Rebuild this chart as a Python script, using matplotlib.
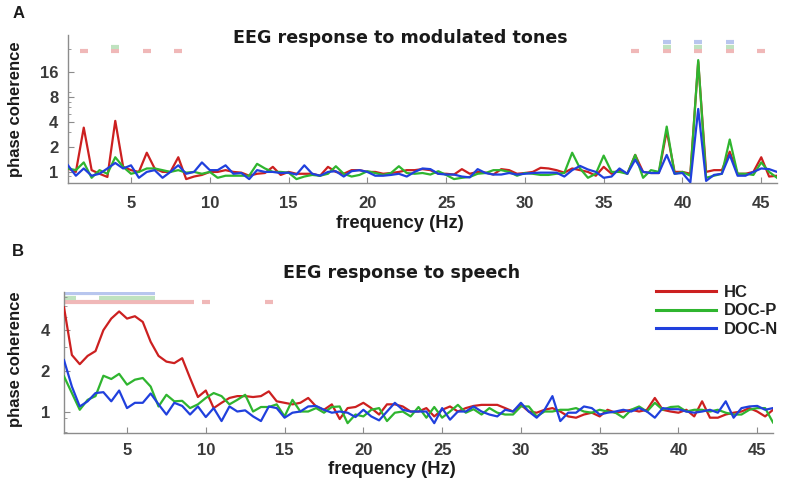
import numpy as np
import matplotlib
matplotlib.use('Agg')
import matplotlib.pyplot as plt
from matplotlib.ticker import FixedLocator, LogLocator, NullFormatter, FixedFormatter

plt.rcParams['font.family'] = ['Liberation Sans', 'DejaVu Sans']
plt.rcParams['font.weight'] = 'bold'

# frequency bins (Hz), 0.5 Hz resolution
freqs = np.arange(1, 46.5, 0.5)

# Panel A: modulated tones
tones_hc = [1.1, 1.0, 3.4, 1.05, 0.95, 0.87, 4.1, 1.15, 1.05, 1.0,
            1.7, 1.1, 1.0, 1.0, 1.5, 0.82, 0.88, 0.92, 1.0, 1.0,
            1.05, 1.0, 0.98, 0.9, 0.95, 0.97, 1.15, 0.92, 1.0, 0.95,
            0.95, 0.95, 0.9, 1.15, 1.0, 0.95, 1.05, 1.05, 1.0, 1.0,
            0.95, 0.97, 1.0, 1.05, 1.05, 1.08, 1.05, 0.95, 0.95, 0.93,
            1.08, 0.95, 1.0, 0.98, 0.93, 1.08, 1.05, 0.95, 0.97, 1.0,
            1.12, 1.1, 1.05, 0.98, 1.1, 1.05, 1.0, 0.9, 1.15, 0.95,
            1.05, 0.95, 1.6, 1.0, 0.97, 0.97, 3.1, 1.0, 1.0, 0.95,
            21.0, 1.0, 1.05, 1.05, 1.75, 0.95, 0.95, 1.0, 1.5, 0.88,
            0.9]
tones_docp = [1.1, 1.05, 1.3, 0.85, 1.05, 0.95, 1.5, 1.15, 0.95, 1.0,
              1.1, 1.1, 1.05, 1.0, 1.05, 0.98, 1.0, 0.95, 1.0, 0.85,
              0.9, 0.9, 0.9, 0.9, 1.25, 1.1, 1.0, 1.0, 0.98, 0.82,
              0.88, 0.92, 0.9, 0.95, 1.17, 0.95, 0.88, 0.92, 1.02, 0.97,
              0.92, 0.97, 1.17, 0.97, 0.95, 0.97, 0.93, 1.02, 0.92, 0.82,
              0.85, 0.87, 0.95, 0.97, 1.05, 1.05, 1.0, 0.9, 0.97, 0.95,
              0.92, 0.92, 0.95, 0.97, 1.7, 1.1, 0.85, 0.95, 1.57, 1.0,
              1.0, 0.95, 1.6, 0.85, 1.05, 1.0, 3.5, 0.95, 1.0, 0.9,
              22.0, 0.85, 0.9, 0.95, 2.45, 0.95, 0.95, 0.92, 1.3, 1.0,
              0.85]
tones_docn = [1.2, 0.9, 1.1, 0.9, 0.95, 1.1, 1.28, 1.1, 1.2, 0.85,
              1.0, 1.05, 0.85, 1.0, 1.2, 0.95, 1.0, 1.3, 1.05, 1.05,
              1.2, 0.95, 0.97, 0.82, 1.05, 1.0, 1.0, 0.97, 0.98, 0.93,
              1.2, 0.95, 0.9, 1.0, 1.02, 0.88, 1.02, 1.05, 1.0, 0.9,
              0.9, 0.92, 0.95, 0.88, 1.0, 1.1, 1.08, 0.95, 0.93, 0.93,
              0.88, 0.86, 1.08, 0.97, 0.93, 0.93, 0.97, 0.93, 0.95, 0.97,
              0.98, 0.98, 0.98, 0.88, 1.05, 1.18, 1.07, 1.0, 0.85, 0.88,
              1.1, 0.95, 1.4, 1.0, 0.97, 0.97, 1.6, 0.95, 0.97, 0.75,
              5.7, 0.78, 0.92, 0.95, 1.6, 0.9, 0.9, 1.0, 1.1, 1.08,
              1.0]

# Panel B: speech
speech_hc = [5.9, 2.62, 2.24, 2.58, 2.8, 4.0, 4.87, 5.5, 4.87, 5.07,
             4.6, 3.28, 2.58, 2.34, 2.28, 2.48, 1.77, 1.28, 1.43, 1.06,
             1.16, 1.26, 1.3, 1.3, 1.28, 1.3, 1.41, 1.19, 1.16, 1.13,
             1.16, 1.26, 1.09, 1.03, 1.13, 0.88, 1.06, 1.08, 1.16, 1.06,
             0.95, 1.13, 1.13, 1.09, 1.0, 1.0, 1.06, 0.92, 1.03, 1.09,
             1.0, 1.06, 1.1, 1.12, 1.12, 1.12, 1.06, 1.0, 1.12, 1.0,
             0.98, 1.03, 1.06, 1.0, 0.92, 0.9, 0.95, 0.98, 0.92, 1.03,
             0.98, 1.0, 1.03, 1.0, 1.03, 1.26, 1.03, 1.0, 0.98, 1.03,
             0.92, 1.19, 0.9, 0.9, 0.95, 0.98, 1.0, 1.06, 1.0, 0.92,
             1.03]
speech_docp = [1.82, 1.37, 1.03, 1.22, 1.3, 1.84, 1.74, 1.9, 1.58, 1.72,
               1.77, 1.53, 1.09, 1.33, 1.19, 1.2, 1.06, 1.13, 1.26, 1.37,
               1.3, 1.13, 1.22, 1.33, 1.0, 1.08, 1.08, 1.13, 0.92, 1.22,
               1.0, 1.0, 1.06, 0.98, 1.08, 1.09, 0.82, 0.95, 0.92, 1.03,
               1.06, 0.85, 0.98, 1.0, 0.92, 1.08, 0.9, 1.08, 0.9, 1.0,
               1.12, 0.98, 1.04, 0.95, 1.06, 0.98, 0.95, 0.95, 1.09, 1.09,
               0.92, 1.0, 1.0, 1.03, 1.03, 1.06, 1.0, 0.98, 1.03, 1.0,
               0.98, 0.9, 1.03, 1.09, 1.0, 1.16, 1.03, 1.08, 1.09, 1.0,
               1.03, 1.03, 1.0, 1.03, 0.98, 0.95, 0.95, 1.03, 1.06, 1.06,
               0.83]
speech_docn = [2.4, 1.53, 1.09, 1.19, 1.37, 1.39, 1.19, 1.43, 1.06, 1.16,
               1.16, 1.36, 1.13, 0.95, 1.16, 1.1, 0.95, 1.09, 0.91, 1.06,
               0.85, 1.09, 1.0, 1.02, 0.92, 0.85, 1.09, 1.06, 0.9, 0.98,
               1.0, 1.09, 1.1, 1.03, 0.98, 1.0, 0.98, 0.91, 1.03, 0.92,
               0.86, 1.0, 1.16, 1.03, 1.0, 1.0, 1.0, 0.82, 1.06, 0.87,
               1.0, 1.0, 1.09, 1.0, 0.95, 0.92, 1.03, 1.0, 1.16, 1.0,
               0.9, 1.03, 1.3, 0.85, 0.98, 0.98, 1.09, 1.06, 0.95, 0.98,
               1.0, 1.03, 1.0, 1.06, 1.0, 0.9, 1.06, 1.04, 1.04, 1.0,
               0.98, 1.0, 1.03, 0.98, 1.19, 0.9, 1.06, 1.09, 1.1, 1.03,
               1.06]

# significant frequency bins
sig_tones_hc = [2, 4, 6, 8, 37, 39, 41, 43, 45]
sig_tones_docp = [4, 39, 41, 43]
sig_tones_docn = [39, 41, 43]
sig_speech_hc = [1, 1.5, 2, 2.5, 3, 3.5, 4, 4.5, 5, 5.5, 6, 6.5, 7, 7.5, 8, 8.5, 9, 10, 14]
sig_speech_docp = [1, 1.5, 3.5, 4, 4.5, 5, 5.5, 6, 6.5]
sig_speech_docn = [1, 1.5, 2, 2.5, 3, 3.5, 4, 4.5, 5, 5.5, 6, 6.5]

labels = ['HC', 'DOC-P', 'DOC-N']
colors = ['#cc2020', '#2fb52f', '#2040dd']
sig_colors = ['#f0b8b8', '#bfe2bf', '#b8c6ee']

W, H = 787, 484
fig = plt.figure(figsize=(W / 100, H / 100), dpi=100)
ax1 = fig.add_axes([68 / W, 1 - 183.3 / H, (777 - 68) / W, (183.3 - 35) / H])
ax2 = fig.add_axes([64 / W, 1 - 433.3 / H, (773 - 64) / W, (433.3 - 291.7) / H])

gray = '#8c8c8c'
tick_col = '#3a3a3a'


def style(ax, yticks, ylim, xpad, ypad):
    ax.set_yscale('log')
    ax.set_xlim(1, 46)
    ax.set_ylim(*ylim)
    for s in ['top', 'right']:
        ax.spines[s].set_visible(False)
    for s in ['left', 'bottom']:
        ax.spines[s].set_color(gray)
        ax.spines[s].set_linewidth(1.0)
    ax.set_xticks([5, 10, 15, 20, 25, 30, 35, 40, 45])
    ax.yaxis.set_major_locator(FixedLocator(yticks))
    ax.yaxis.set_major_formatter(FixedFormatter([str(t) for t in yticks]))
    ax.yaxis.set_minor_locator(LogLocator(base=10, subs=(3, 5, 6, 7, 9)))
    ax.yaxis.set_minor_formatter(NullFormatter())
    ax.tick_params(axis='both', which='major', direction='in', length=4,
                   color=gray, labelsize=12, labelcolor=tick_col)
    ax.tick_params(axis='x', pad=xpad)
    ax.tick_params(axis='y', pad=ypad)
    ax.tick_params(axis='y', which='minor', direction='in', length=2.5, color=gray)
    for lab in ax.get_xticklabels() + ax.get_yticklabels():
        lab.set_fontweight('bold')


def sig_bars(ax, sig_lists, levels):
    for sig, col, lev in zip(sig_lists, sig_colors, levels):
        for f in sig:
            ax.hlines(lev, f - 0.25, f + 0.25, colors=col, linewidth=3, zorder=1)


style(ax1, [1, 2, 4, 8, 16], (0.73, 44), 9.5, 7)
style(ax2, [1, 2, 4], (0.69, 7.7), 7, 10)

for ys, c in zip([tones_hc, tones_docp, tones_docn], colors):
    ax1.plot(freqs, ys, color=c, linewidth=1.6, zorder=3)
sig_bars(ax1, [sig_tones_hc, sig_tones_docp, sig_tones_docn], [28.4, 32, 36.5])

lines = []
for ys, c, lab in zip([speech_hc, speech_docp, speech_docn], colors, labels):
    ln, = ax2.plot(freqs, ys, color=c, linewidth=1.6, zorder=3, label=lab)
    lines.append(ln)
sig_bars(ax2, [sig_speech_hc, sig_speech_docp, sig_speech_docn], [6.45, 6.96, 7.5])

leg = ax2.legend(lines, labels, loc='upper left',
                 bbox_to_anchor=(656 / W, 1 - 285 / H), bbox_transform=fig.transFigure,
                 frameon=False, borderpad=0, borderaxespad=0, handlelength=3.6,
                 handletextpad=0.5, labelspacing=0.2,
                 prop={'size': 12, 'weight': 'bold'})
for t in leg.get_texts():
    t.set_color('#222222')
for l in leg.get_lines():
    l.set_linewidth(2.2)

txt = dict(fontsize=12, fontweight='bold', color='#1a1a1a')
ttl = dict(fontsize=12.6, fontweight='bold', color='#1a1a1a', family=['DejaVu Sans'])
fig.text(400 / W, 1 - 38 / H, 'EEG response to modulated tones', ha='center', va='center', **ttl)
fig.text(402 / W, 1 - 273 / H, 'EEG response to speech', ha='center', va='center', **ttl)
fig.text(400 / W, 1 - 224 / H, 'frequency (Hz)', ha='center', va='center',
         fontsize=13.2, fontweight='bold', color='#1a1a1a')
fig.text(392 / W, 1 - 469 / H, 'frequency (Hz)', ha='center', va='center',
         fontsize=13.2, fontweight='bold', color='#1a1a1a')
fig.text(16 / W, 1 - 109 / H, 'phase coherence', ha='center', va='center', rotation=90, **txt)
fig.text(16 / W, 1 - 359 / H, 'phase coherence', ha='center', va='center', rotation=90, **txt)
fig.text(19 / W, 1 - 13 / H, 'A', ha='center', va='center', **txt)
fig.text(18 / W, 1 - 251 / H, 'B', ha='center', va='center', **txt)

fig.savefig('out.png', dpi=100)
